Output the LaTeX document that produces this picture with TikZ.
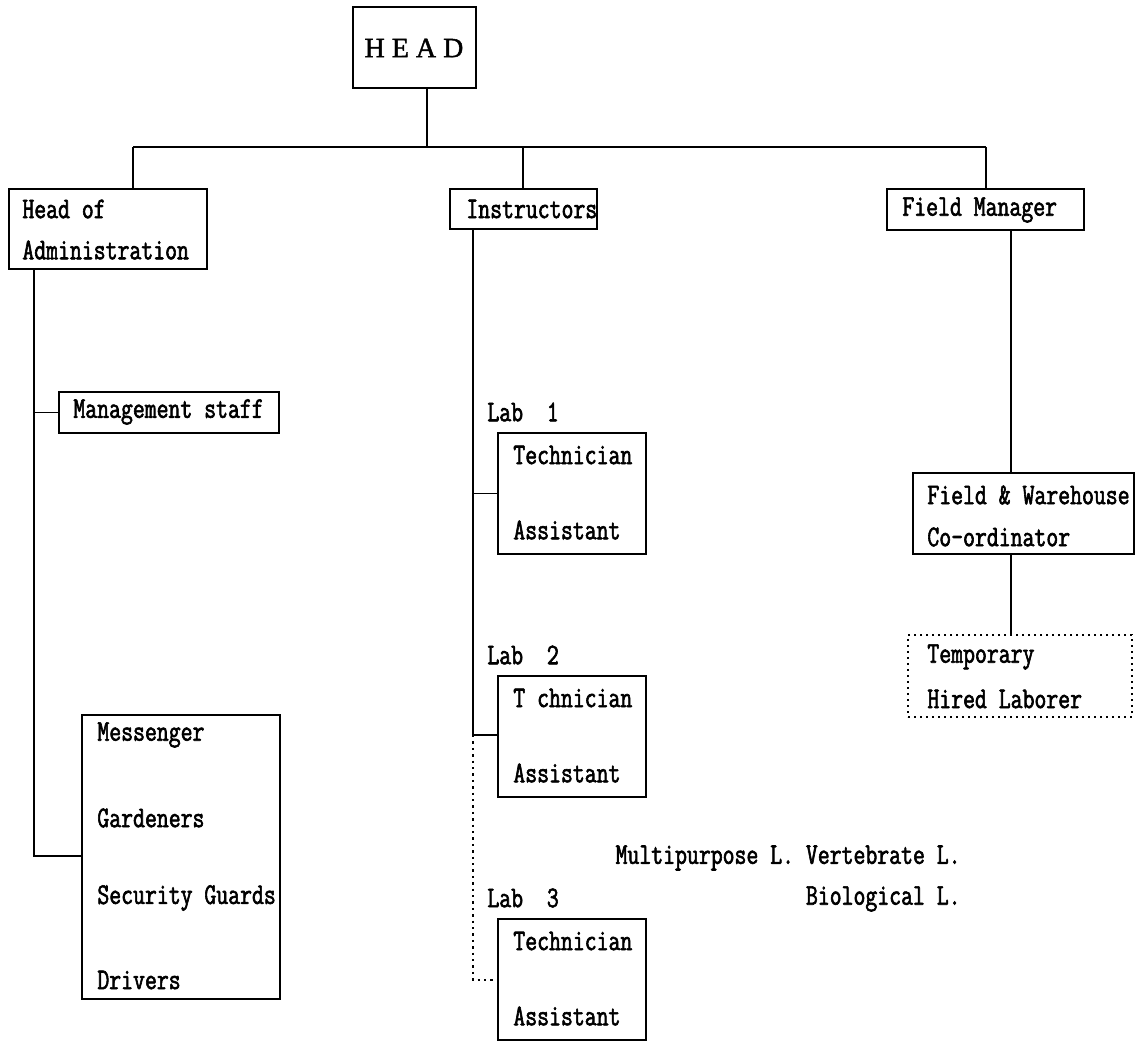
\documentclass[tikz,border=0pt]{standalone}
\usepackage{fontspec}
\newfontfamily\chartfont{Latin Modern Mono}[FakeStretch=0.77,FakeBold=2]
\newfontfamily\headfont{Liberation Serif}[FakeBold=1.5]
\usetikzlibrary{fit}

\tikzset{
  box/.style={draw, line width=1pt, inner sep=0pt},
  dotbox/.style={box, dotted, line width=1.2pt},
  txt/.style={font=\chartfont\fontsize{15}{15}\selectfont, inner sep=0pt, anchor=west},
  link/.style={line width=1.2pt}
}

\begin{document}
\begin{tikzpicture}[x=0.5pt,y=-0.5pt]

    \useasboundingbox (0,0) rectangle (1146,1042);

    % top
    \node[box, fit={(353,7) (476,88)}] (head) {};
    \node[font=\headfont\fontsize{14}{14}\selectfont, inner sep=0pt] (head1) at (414,48) {H\ E\ A\ D};
    \coordinate (bus) at (427,147);
    \coordinate (busL) at (133,147);
    \coordinate (busR) at (986,147);

    % second level
    \node[box, fit={(9,189) (207,269)}] (admin) {};
    \node[txt] (admin1) at (22,209) {Head of};
    \node[txt] (admin2) at (22,250) {Administration};
    \node[box, fit={(450,189) (597,229)}] (instr) {};
    \node[txt] (instr1) at (466,209) {Instructors};
    \node[box, fit={(887,189) (1084,230)}] (field) {};
    \node[txt] (field1) at (902,210) {Field Manager};

    % administration
    \node[box, fit={(59,392) (279,433)}] (staff) {};
    \node[txt] (staff1) at (73,412) {Management staff};
    \node[box, fit={(82,715) (280,999)}] (misc) {};
    \node[txt] (misc1) at (97,735) {Messenger};
    \node[txt] (misc2) at (97,818) {Gardeners};
    \node[txt] (misc3) at (97,898) {Security Guards};
    \node[txt] (misc4) at (97,980) {Drivers};

    % labs
    \node[box, fit={(498,433) (646,554)}] (labA) {};
    \node[box, fit={(498,676) (646,797)}] (labB) {};
    \node[box, fit={(498,919) (646,1040)}] (labC) {};
    \node[txt] (labA0) at (487,412) {Lab\ \ 1};
    \node[txt] (labA1) at (513,455) {Technician};
    \node[txt] (labA2) at (513,530) {Assistant};
    \node[txt] (labB0) at (487,655) {Lab\ \ 2};
    \node[txt] (labB1) at (513,698) {T chnician};
    \node[txt] (labB2) at (513,773) {Assistant};
    \node[txt] (labC0) at (487,898) {Lab\ \ 3};
    \node[txt] (labC1) at (513,941) {Technician};
    \node[txt] (labC2) at (513,1016) {Assistant};
    \node[txt, anchor=east] (kinds1) at (961,858) {Multipurpose L. Vertebrate L.};
    \node[txt, anchor=east] (kinds2) at (961,899) {Biological L.};

    % field
    \node[box, fit={(913,473) (1134,554)}] (ware) {};
    \node[txt] (ware1) at (927,495) {Field \& Warehouse};
    \node[txt] (ware2) at (927,537) {Co-ordinator};
    \node[dotbox, fit={(908,635) (1132,717)}] (temp) {};
    \node[txt] (temp1) at (927,657) {Temporary};
    \node[txt] (temp2) at (927,699) {Hired Laborer};

    % connectors
    \coordinate (aspine) at (34,856);
    \coordinate (ispine) at (473,735);
    \coordinate (iend) at (473,980);
    \coordinate (fspine) at (1011,300);

    \draw[link] (head.south -| bus) -- (bus);
    \draw[link] (busL) -- (busR);
    \draw[link] (busL) -- (busL |- admin.north);
    \draw[link] (instr.north -| 523,0) -- (523,147);
    \draw[link] (busR) -- (busR |- field.north);

    \draw[link] (admin.south -| aspine) -- (aspine) -- (aspine -| misc.west);
    \draw[line width=0.8pt] (staff.west) -- (staff.west -| aspine);

    \draw[link] (instr.south -| ispine) -- (ispine) -- (ispine -| labB.west);
    \draw[line width=0.8pt] (labA.west) -- (labA.west -| ispine);
    \draw[link, dotted] (ispine) -- (iend) -- (iend -| labC.west);

    \draw[link] (field.south -| fspine) -- (ware.north -| fspine);
    \draw[link] (ware.south -| fspine) -- (temp.north -| fspine);
  \end{tikzpicture}
\end{document}
